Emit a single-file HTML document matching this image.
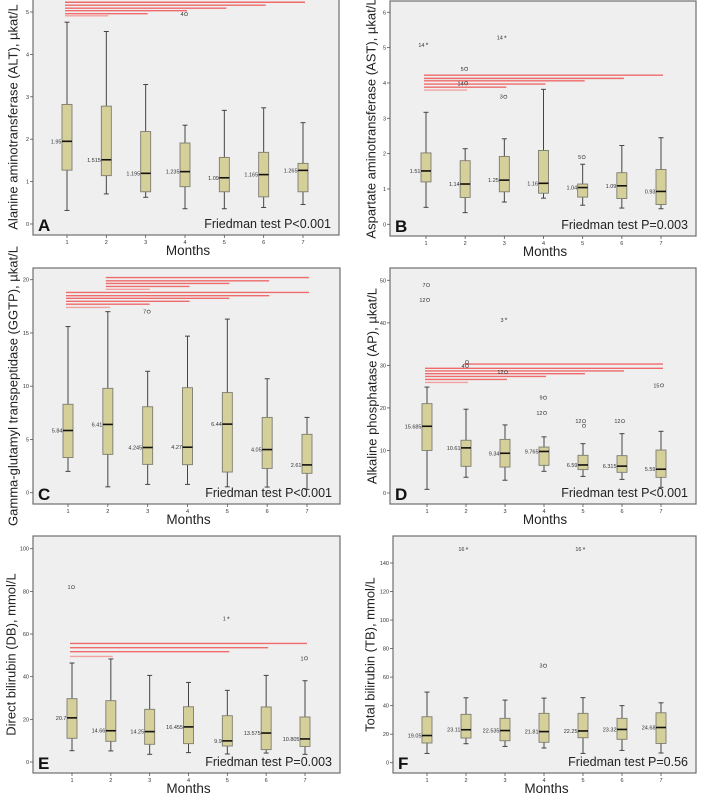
<!DOCTYPE html>
<html><head><meta charset="utf-8">
<style>
html,body{margin:0;padding:0;background:#fff;}
svg{display:block;font-family:"Liberation Sans",sans-serif;}
</style></head>
<body>
<svg id="fig" width="708" height="804" viewBox="0 0 708 804"></svg>
<script>
// ---- data ----
const months = ["1","2","3","4","5","6","7"];
// Panel A (ALT)
const aWhiskLo = [0.32,0.71,0.63,0.36,0.36,0.39,0.46];
const aQ1      = [1.27,1.14,0.76,0.88,0.76,0.64,0.76];
const aMed     = [1.95,1.515,1.195,1.235,1.09,1.165,1.265];
const aQ3      = [2.82,2.78,2.18,1.91,1.57,1.69,1.43];
const aWhiskHi = [4.76,4.54,3.29,2.33,2.68,2.74,2.39];
const aMedLabels = ["1.95","1.515","1.195","1.235","1.09","1.165","1.265"];
const aTicks = [0,1,2,3,4,5];
const aOutliers = [[4,4.95,"4","O"]];
const aLines = [[1,7,5.23],[1,6,5.16],[1,5,5.09],[1,4,5.03],[1,3,4.96],[1,2,4.91]];
// Panel B (AST)
const bWhiskLo = [0.48,0.33,0.63,0.74,0.54,0.46,0.44];
const bQ1      = [1.20,0.76,0.92,0.88,0.77,0.73,0.56];
const bMed     = [1.51,1.14,1.25,1.16,1.04,1.09,0.93];
const bQ3      = [2.02,1.80,1.92,2.09,1.14,1.46,1.55];
const bWhiskHi = [3.17,2.14,2.42,3.82,1.70,2.23,2.45];
const bMedLabels = ["1.51","1.14","1.25","1.16","1.04","1.09","0.93"];
const bTicks = [0,1,2,3,4,5,6];
const bOutliers = [[1,5.08,"14","*"],[3,5.28,"14","*"],[2,4.4,"5","O"],[2,3.99,"14","O"],[3,3.61,"3","O"],[5,1.9,"5","O"]];
const bLines = [[1,7,4.22],[1,6,4.13],[1,5,4.06],[1,4,3.97],[1,3,3.88],[1,2,3.80]];
// Panel C (GGTP)
const cWhiskLo = [2.0,0.55,0.78,0.78,0.55,0.53,0.31];
const cQ1      = [3.3,3.6,2.66,2.63,1.94,2.28,1.82];
const cMed     = [5.84,6.41,4.245,4.27,6.44,4.05,2.61];
const cQ3      = [8.3,9.8,8.07,9.86,9.4,7.07,5.48];
const cWhiskHi = [15.6,17.0,11.4,14.7,16.3,10.7,7.07];
const cMedLabels = ["5.84","6.41","4.245","4.27","6.44","4.05","2.61"];
const cTicks = [0,5,10,15,20];
const cOutliers = [[3,17.0,"7","O"]];
const cLines = [[2,7,20.2],[2,6,19.9],[2,5,19.65],[2,4,19.37],[2,3,19.1],[1,7,18.8],[1,6,18.5],[1,5,18.25],[1,4,17.97],[1,3,17.7],[1,2,17.4]];
// Panel D (AP)
const dWhiskLo = [0.86,3.7,3.0,5.1,3.9,3.2,1.33];
const dQ1      = [10.0,6.27,6.1,6.5,5.5,4.86,3.68];
const dMed     = [15.685,10.61,9.34,9.765,6.59,6.315,5.59];
const dQ3      = [21.0,12.4,12.6,10.8,8.86,8.78,10.1];
const dWhiskHi = [24.9,19.7,16.0,13.2,11.6,13.95,14.5];
const dMedLabels = ["15.685","10.61","9.34","9.765","6.59","6.315","5.59"];
const dTicks = [0,10,20,30,40,50];
const dOutliers = [[1,48.9,"7","O"],[1,45.4,"12","O"],[3,40.7,"3","*"],[2,29.9,"4","O"],[2,30.8,"","O"],[3,28.4,"12","O"],[4,22.4,"9","O"],[4,18.8,"12","O"],[5,16.9,"12","O"],[5,15.8,"","O"],[6,16.9,"12","O"],[7,25.3,"15","O"]];
const dLines = [[2,7,30.3],[1,7,29.3],[1,6,28.7],[1,5,28.05],[1,4,27.4],[1,3,26.7],[1,2,26.0]];
// Panel E (DB)
const eWhiskLo = [5.3,5.2,3.6,4.4,3.75,4.2,3.6];
const eQ1      = [11.1,9.7,8.3,8.6,7.5,5.8,7.3];
const eMed     = [20.7,14.66,14.25,16.455,9.9,13.575,10.805];
const eQ3      = [29.7,28.75,24.7,25.9,21.7,25.8,21.1];
const eWhiskHi = [46.4,48.3,40.6,37.3,33.6,40.6,38.1];
const eMedLabels = ["20.7","14.66","14.25","16.455","9.9","13.575","10.805"];
const eTicks = [0,20,40,60,80,100];
const eOutliers = [[1,82,"1","O"],[5,67.2,"1","*"],[7,48.6,"1","O"]];
const eLines = [[1,7,55.6],[1,6,53.6],[1,5,51.7],[1,2,49.5]];
// Panel F (TB)
const fWhiskLo = [6.5,13.3,11.4,10.3,6.5,8.6,6.8];
const fQ1      = [13.8,17.3,15.4,14.3,17.5,16.4,13.5];
const fMed     = [19.05,23.11,22.535,21.81,22.25,23.32,24.68];
const fQ3      = [32.2,33.9,31.1,34.6,34.6,31.1,35.0];
const fWhiskHi = [49.5,45.5,43.9,45.3,45.6,40.0,42.0];
const fMedLabels = ["19.05","23.11","22.535","21.81","22.25","23.32","24.68"];
const fTicks = [0,20,40,60,80,100,120,140];
const fOutliers = [[2,149.8,"16","*"],[5,149.8,"16","*"],[4,68,"3","O"]];
const fLines = [];

const panels = [
 {id:"a",letter:"A",title:"Alanine aminotransferase (ALT), µkat/L",p:"Friedman test P<0.001",
  fl:33,fr:339,ft:-1,fb:235,y0:224,yv:5,yp:12,x1:67,x7:303,tx:14,
  lo:aWhiskLo,q1:aQ1,med:aMed,q3:aQ3,hi:aWhiskHi,ml:aMedLabels,ticks:aTicks,out:aOutliers,lines:aLines},
 {id:"b",letter:"B",title:"Aspartate aminotransferase (AST), µkat/L",p:"Friedman test P=0.003",
  fl:390,fr:696,ft:1,fb:236,y0:224.3,yv:6,yp:12.3,x1:426,x7:661,tx:372,
  lo:bWhiskLo,q1:bQ1,med:bMed,q3:bQ3,hi:bWhiskHi,ml:bMedLabels,ticks:bTicks,out:bOutliers,lines:bLines},
 {id:"c",letter:"C",title:"Gamma-glutamyl transpeptidase (GGTP), µkat/L",p:"Friedman test P<0.001",
  fl:33,fr:340,ft:268,fb:504,y0:492.7,yv:20,yp:279.7,x1:68,x7:307,tx:14,
  lo:cWhiskLo,q1:cQ1,med:cMed,q3:cQ3,hi:cWhiskHi,ml:cMedLabels,ticks:cTicks,out:cOutliers,lines:cLines},
 {id:"d",letter:"D",title:"Alkaline phosphatase (AP), µkat/L",p:"Friedman test P<0.001",
  fl:390,fr:696,ft:268,fb:504,y0:493,yv:50,yp:280.3,x1:427,x7:661,tx:373,
  lo:dWhiskLo,q1:dQ1,med:dMed,q3:dQ3,hi:dWhiskHi,ml:dMedLabels,ticks:dTicks,out:dOutliers,lines:dLines},
 {id:"e",letter:"E",title:"Direct bilirubin (DB), mmol/L",p:"Friedman test P=0.003",
  fl:33,fr:340,ft:536,fb:773,y0:762,yv:100,yp:548.7,x1:72,x7:305,tx:12,
  lo:eWhiskLo,q1:eQ1,med:eMed,q3:eQ3,hi:eWhiskHi,ml:eMedLabels,ticks:eTicks,out:eOutliers,lines:eLines},
 {id:"f",letter:"F",title:"Total bilirubin (TB), mmol/L",p:"Friedman test P=0.56",
  fl:393,fr:696,ft:536,fb:773,y0:762.7,yv:140,yp:563,x1:427,x7:661,tx:371,
  lo:fWhiskLo,q1:fQ1,med:fMed,q3:fQ3,hi:fWhiskHi,ml:fMedLabels,ticks:fTicks,out:fOutliers,lines:fLines}
];

const NS="http://www.w3.org/2000/svg";
const svg=document.getElementById("fig");
function mk(tag,attrs,parent,txt){
  const e=document.createElementNS(NS,tag);
  for(const k in attrs)e.setAttribute(k,attrs[k]);
  if(txt!==undefined)e.textContent=txt;
  parent.appendChild(e);return e;
}

panels.forEach(P=>{
  const g=mk("g",{},svg);
  
  
  const ys=v=>P.y0-(v/P.yv)*(P.y0-P.yp);
  const xs=i=>P.x1+i*(P.x7-P.x1)/6;
  const fr=mk("rect",{x:P.fl,y:P.ft,width:P.fr-P.fl,height:P.fb-P.ft,fill:"#efefef",stroke:"#6e6e6e","stroke-width":1.2},g);
  
  
  // y ticks
  P.ticks.forEach(t=>{
    const y=ys(t);
    const tk=mk("line",{x1:P.fl-3,x2:P.fl,y1:y,y2:y,stroke:"#555","stroke-width":0.8},g);
    
    
    const tl=mk("text",{x:P.fl-4,y:y+2,"font-size":5.5,"text-anchor":"end",fill:"#333"},g,String(t));
    
    
  });
  // x ticks
  months.forEach((m,i)=>{
    const x=xs(i);
    const tk=mk("line",{x1:x,x2:x,y1:P.fb,y2:P.fb+3,stroke:"#555","stroke-width":0.8},g);
    
    
    const tl=mk("text",{x:x,y:P.fb+9,"font-size":5.5,"text-anchor":"middle",fill:"#333"},g,m);
    
    
  });
  // significance lines
  P.lines.forEach((L,j)=>{
    const pale=(L[1]-L[0]<=1);
    const ln=mk("line",{x1:xs(L[0]-1)-2,x2:xs(L[1]-1)+2,y1:ys(L[2]),y2:ys(L[2]),stroke:pale?"#f4a0a0":"#ef6a6a","stroke-width":1.4},g);
    
    
  });
  // boxes
  months.forEach((m,i)=>{
    const x=xs(i),w=10;
    const bg=mk("g",{},g);
    
    
    mk("line",{x1:x,x2:x,y1:ys(P.hi[i]),y2:ys(P.q3[i]),stroke:"#444","stroke-width":1},bg);
    mk("line",{x1:x,x2:x,y1:ys(P.q1[i]),y2:ys(P.lo[i]),stroke:"#444","stroke-width":1},bg);
    mk("line",{x1:x-2.5,x2:x+2.5,y1:ys(P.hi[i]),y2:ys(P.hi[i]),stroke:"#444","stroke-width":1},bg);
    mk("line",{x1:x-2.5,x2:x+2.5,y1:ys(P.lo[i]),y2:ys(P.lo[i]),stroke:"#444","stroke-width":1},bg);
    mk("rect",{x:x-w/2,y:ys(P.q3[i]),width:w,height:ys(P.q1[i])-ys(P.q3[i]),fill:"#d5cf9a",stroke:"#7d7d70","stroke-width":0.9},bg);
    mk("line",{x1:x-w/2,x2:x+w/2,y1:ys(P.med[i]),y2:ys(P.med[i]),stroke:"#111","stroke-width":1.6},bg);
    const ml=mk("text",{x:x-w/2-0.5,y:ys(P.med[i])+2,"font-size":5.5,"text-anchor":"end",fill:"#333"},g,P.ml[i]);
    
    
  });
  // outliers
  P.out.forEach(o=>{
    const x=xs(o[0]-1),y=ys(o[1]);
    const og=mk("g",{},g);
    
    
    if(o[3]==="O") mk("circle",{cx:x+1,cy:y,r:1.6,fill:"none",stroke:"#444","stroke-width":0.6},og);
    else mk("text",{x:x+1,y:y+2.8,"font-size":7,"text-anchor":"middle",fill:"#333"},og,"*");
    if(o[2]) mk("text",{x:x-1.5,y:y+2,"font-size":5.5,"text-anchor":"end",fill:"#333"},og,o[2]);
  });
  // texts
  const lt=mk("text",{x:P.fl+5,y:P.fb-4,"font-size":17,"font-weight":"bold",fill:"#111"},g,P.letter);
  
  
  const pt=mk("text",{x:P.fr-8,y:P.fb-7,"font-size":12.5,"text-anchor":"end",fill:"#222"},g,P.p);
  
  
  const xt=mk("text",{x:(P.fl+P.fr)/2+2,y:P.fb+20,"font-size":13.5,"text-anchor":"middle",fill:"#222"},g,"Months");
  
  
  const cy=(P.ft+P.fb)/2;
  const yt=mk("text",{x:P.tx,y:cy,"font-size":13,"text-anchor":"middle",fill:"#222",transform:"rotate(-90 "+P.tx+" "+cy+")","dominant-baseline":"middle"},g,P.title);
  
  
});
</script>
</body></html>
